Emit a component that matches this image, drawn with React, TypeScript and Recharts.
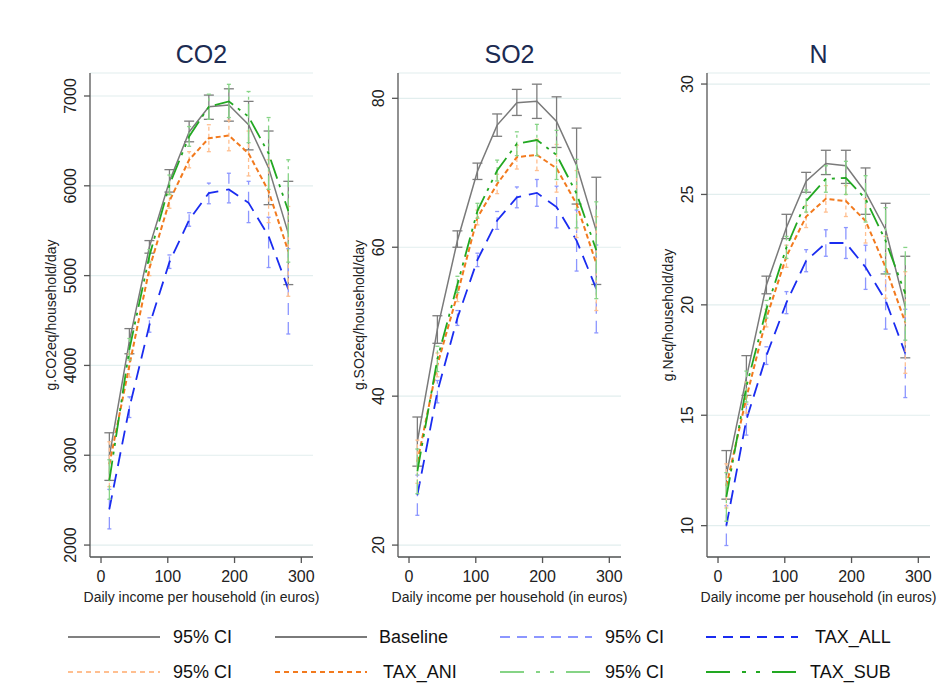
import React from 'react';
import { ComposedChart, Line, ErrorBar, XAxis, YAxis, CartesianGrid, Label } from 'recharts';

// income bins (euros / day)
const incomes = [12.5, 42.5, 72.5, 102.5, 132, 161.5, 191.5, 221, 251, 280.5];
const xTicks = [0, 100, 200, 300];

// CO2
const co2Baseline = [2990, 4270, 5320, 6050, 6600, 6880, 6900, 6680, 6200, 5470];
const co2BaselineLo = [2720, 4130, 5250, 5930, 6490, 6740, 6720, 6400, 5790, 4900];
const co2BaselineHi = [3250, 4410, 5390, 6180, 6720, 7010, 7080, 6940, 6610, 6050];
const co2All = [2400, 3530, 4450, 5150, 5620, 5920, 5960, 5810, 5440, 4850];
const co2AllLo = [2180, 3420, 4370, 5080, 5550, 5800, 5810, 5590, 5090, 4350];
const co2AllHi = [2620, 3650, 4530, 5230, 5700, 6030, 6140, 6050, 5650, 5300];
const co2Ani = [2900, 4000, 5080, 5830, 6290, 6530, 6560, 6360, 5940, 5270];
const co2AniLo = [2650, 3870, 5000, 5750, 6200, 6380, 6390, 6110, 5590, 4770];
const co2AniHi = [3150, 4130, 5160, 5910, 6380, 6680, 6730, 6610, 6290, 5770];
const co2Sub = [2720, 4180, 5220, 6010, 6550, 6880, 6940, 6770, 6360, 5720];
const co2SubLo = [2510, 4060, 5150, 5900, 6440, 6740, 6760, 6480, 5960, 5150];
const co2SubHi = [2950, 4300, 5290, 6120, 6660, 7020, 7130, 7050, 6760, 6290];
const co2Ticks = [2000, 3000, 4000, 5000, 6000, 7000];

// SO2
const so2Baseline = [33.9, 49.0, 60.9, 70.2, 76.4, 79.4, 79.6, 76.9, 71.0, 62.2];
const so2BaselineLo = [30.6, 47.1, 60.0, 69.1, 74.9, 77.7, 77.3, 73.4, 65.8, 55.0];
const so2BaselineHi = [37.2, 50.8, 62.2, 71.3, 77.9, 81.2, 81.9, 80.2, 76.0, 69.4];
const so2All = [26.7, 40.6, 50.5, 58.3, 63.6, 66.7, 67.3, 65.4, 60.9, 54.4];
const so2AllLo = [24.0, 39.1, 49.5, 57.4, 62.4, 65.3, 65.5, 62.6, 56.8, 48.5];
const so2AllHi = [29.4, 42.1, 51.5, 59.2, 64.8, 68.1, 69.1, 68.2, 65.0, 60.3];
const so2Ani = [31.2, 44.2, 53.7, 64.0, 68.5, 72.1, 72.4, 70.6, 65.8, 57.8];
const so2AniLo = [28.3, 42.6, 52.7, 63.0, 67.2, 70.5, 70.3, 67.4, 61.3, 51.5];
const so2AniHi = [34.1, 45.8, 54.7, 65.0, 69.8, 73.7, 74.5, 73.8, 70.3, 64.1];
const so2Sub = [29.9, 45.0, 55.0, 64.9, 70.3, 73.9, 74.4, 72.4, 67.2, 59.6];
const so2SubLo = [26.9, 43.3, 53.9, 63.9, 68.9, 72.3, 72.3, 69.1, 62.6, 53.1];
const so2SubHi = [32.9, 46.7, 56.1, 65.9, 71.7, 75.5, 76.5, 75.7, 71.8, 66.1];
const so2Ticks = [20, 40, 60, 80];

// N
const nBaseline = [12.3, 16.7, 20.9, 23.5, 25.6, 26.4, 26.3, 25.1, 23.4, 19.9];
const nBaselineLo = [11.2, 15.9, 20.5, 23.0, 25.1, 25.9, 25.5, 24.1, 21.4, 17.6];
const nBaselineHi = [13.4, 17.7, 21.3, 24.1, 26.0, 27.0, 27.0, 26.2, 24.6, 22.2];
const nAll = [10.0, 14.8, 17.7, 20.1, 22.0, 22.8, 22.8, 21.7, 20.2, 17.8];
const nAllLo = [9.1, 14.1, 17.3, 19.6, 21.5, 22.2, 22.1, 20.7, 18.9, 15.8];
const nAllHi = [10.9, 15.5, 18.1, 20.6, 22.5, 23.4, 23.5, 22.7, 21.5, 19.8];
const nAni = [11.8, 15.8, 19.4, 22.2, 24.0, 24.8, 24.7, 23.8, 21.7, 19.2];
const nAniLo = [10.8, 15.1, 19.0, 21.7, 23.5, 24.2, 24.0, 22.8, 20.3, 16.9];
const nAniHi = [12.8, 16.5, 19.8, 22.7, 24.5, 25.4, 25.4, 24.8, 23.1, 21.5];
const nSub = [11.3, 16.3, 19.8, 22.6, 24.7, 25.7, 25.75, 24.8, 22.9, 20.5];
const nSubLo = [10.2, 15.6, 19.4, 22.1, 24.2, 25.1, 25.0, 23.75, 21.4, 18.4];
const nSubHi = [12.4, 17.0, 20.2, 23.1, 25.2, 26.3, 26.5, 25.85, 24.4, 22.6];
const nTicks = [10, 15, 20, 25, 30];

const FONT = '"Liberation Sans", Arial, Helvetica, sans-serif';
const AXIS = '#555';

const SERIES = [
  { key: 'base', color: '#7a7a7a', ci: '#7c7c7c', dash: undefined, ciDash: undefined, w: 1.5, cap: 5 },
  { key: 'all', color: '#1a2cf0', ci: '#8c96ff', dash: '14 8', ciDash: '12 7', w: 1.8, cap: 2 },
  { key: 'ani', color: '#f27a1e', ci: '#ffbf90', dash: '5 3', ciDash: '4 3', w: 2, cap: 2 },
  { key: 'sub', color: '#22a822', ci: '#86d486', dash: '20 6 3 6 3 6', ciDash: '14 4 3 4', w: 1.8, cap: 2 },
];

type Arr = number[];
const err = (v: Arr, lo: Arr, hi: Arr, i: number) => [v[i] - lo[i], hi[i] - v[i]];

function rows(s: { base: Arr[]; all: Arr[]; ani: Arr[]; sub: Arr[] }) {
  return incomes.map((x, i) => ({
    x,
    base: s.base[0][i], baseErr: err(s.base[0], s.base[1], s.base[2], i),
    all: s.all[0][i], allErr: err(s.all[0], s.all[1], s.all[2], i),
    ani: s.ani[0][i], aniErr: err(s.ani[0], s.ani[1], s.ani[2], i),
    sub: s.sub[0][i], subErr: err(s.sub[0], s.sub[1], s.sub[2], i),
  }));
}

const PANELS = [
  {
    title: 'CO2', ylabel: 'g.CO2eq/household/day', left: 30, domain: [1867, 7256], ticks: co2Ticks,
    data: rows({
      base: [co2Baseline, co2BaselineLo, co2BaselineHi], all: [co2All, co2AllLo, co2AllHi],
      ani: [co2Ani, co2AniLo, co2AniHi], sub: [co2Sub, co2SubLo, co2SubHi],
    }),
  },
  {
    title: 'SO2', ylabel: 'g.SO2eq/household/day', left: 338, domain: [18.4, 83.4], ticks: so2Ticks,
    data: rows({
      base: [so2Baseline, so2BaselineLo, so2BaselineHi], all: [so2All, so2AllLo, so2AllHi],
      ani: [so2Ani, so2AniLo, so2AniHi], sub: [so2Sub, so2SubLo, so2SubHi],
    }),
  },
  {
    title: 'N', ylabel: 'g.Neq/household/day', left: 647, domain: [8.58, 30.5], ticks: nTicks,
    data: rows({
      base: [nBaseline, nBaselineLo, nBaselineHi], all: [nAll, nAllLo, nAllHi],
      ani: [nAni, nAniLo, nAniHi], sub: [nSub, nSubLo, nSubHi],
    }),
  },
];

const YTick = (props: any) => {
  const { x, y, payload } = props;
  return (
    <text x={x} y={y} transform={`rotate(-90, ${x}, ${y})`} textAnchor="middle" fontSize={16} fill="#222" fontFamily={FONT}>
      {payload.value}
    </text>
  );
};

const LEGEND = [
  { row: 0, lx: 68, tx: 173, color: '#808080', dash: undefined, label: '95% CI' },
  { row: 0, lx: 275, tx: 379, color: '#7a7a7a', dash: undefined, label: 'Baseline' },
  { row: 0, lx: 500, tx: 605, color: '#8c96ff', dash: '10 7', label: '95% CI' },
  { row: 0, lx: 706, tx: 815, color: '#1a2cf0', dash: '10 7', label: 'TAX_ALL' },
  { row: 1, lx: 68, tx: 173, color: '#ffbf90', dash: '5 4', label: '95% CI' },
  { row: 1, lx: 275, tx: 383, color: '#f27a1e', dash: '5 4', label: 'TAX_ANI' },
  { row: 1, lx: 500, tx: 605, color: '#86d486', dash: '24 12 4 10 4 12', label: '95% CI' },
  { row: 1, lx: 706, tx: 810, color: '#22a822', dash: '24 12 4 10 4 12', label: 'TAX_SUB' },
];

function Panel({ p }: { p: typeof PANELS[number] }) {
  return (
    <div style={{ position: 'absolute', left: p.left, top: 0 }}>
      <div style={{ position: 'absolute', left: 60, width: 223, top: 40, textAlign: 'center', fontSize: 25, color: '#1c2b52', fontFamily: FONT }}>
        {p.title}
      </div>
      <ComposedChart width={290} height={620} data={p.data} margin={{ top: 73, right: 7, bottom: 13, left: 0 }}>
        <CartesianGrid vertical={false} stroke="#e2eeee" strokeWidth={1.2} />
        <XAxis
          dataKey="x" type="number" domain={[-16.5, 317.5]} ticks={xTicks} allowDataOverflow
          height={50} stroke={AXIS} strokeWidth={1.3} tickSize={6} tickMargin={8}
          tick={{ fontSize: 16, fill: '#222', fontFamily: FONT }}
        >
          <Label
            content={({ viewBox }: any) => (
              <text x={viewBox.x + viewBox.width / 2} y={viewBox.y + 45} textAnchor="middle" fontSize={14} fill="#222" fontFamily={FONT}>
                Daily income per household (in euros)
              </text>
            )}
          />
        </XAxis>
        <YAxis
          type="number" domain={p.domain} ticks={p.ticks} allowDataOverflow width={60}
          stroke={AXIS} strokeWidth={1.3} tickSize={6} tickMargin={8} tick={<YTick />}
        >
          <Label
            content={({ viewBox }: any) => {
              const x = viewBox.x + 26;
              const y = viewBox.y + viewBox.height / 2;
              return (
                <text x={x} y={y} transform={`rotate(-90, ${x}, ${y})`} textAnchor="middle" fontSize={14} fill="#222" fontFamily={FONT}>
                  {p.ylabel}
                </text>
              );
            }}
          />
        </YAxis>
        {SERIES.map((s) => (
          <Line
            key={s.key} dataKey={s.key} type="linear" stroke={s.color} strokeWidth={s.w}
            strokeDasharray={s.dash} dot={false} activeDot={false} isAnimationActive={false}
          >
            <ErrorBar
              dataKey={`${s.key}Err`} direction="y" width={s.cap} stroke={s.ci} strokeWidth={1.3}
              strokeDasharray={s.ciDash} isAnimationActive={false}
            />
          </Line>
        ))}
      </ComposedChart>
    </div>
  );
}

export default function App() {
  return (
    <div style={{ position: 'absolute', left: 0, top: 0, width: 952, height: 700, background: '#fff', fontFamily: FONT }}>
      {PANELS.map((p) => (
        <Panel key={p.title} p={p} />
      ))}
      <svg style={{ position: 'absolute', left: 0, top: 615 }} width={952} height={80}>
        {LEGEND.map((l, i) => {
          const y = l.row === 0 ? 22 : 57;
          return (
            <g key={i}>
              <line x1={l.lx} x2={l.lx + 92} y1={y} y2={y} stroke={l.color} strokeWidth={2} strokeDasharray={l.dash} />
              <text x={l.tx} y={y + 6} fontSize={18} fill="#111" fontFamily={FONT}>{l.label}</text>
            </g>
          );
        })}
      </svg>
    </div>
  );
}
